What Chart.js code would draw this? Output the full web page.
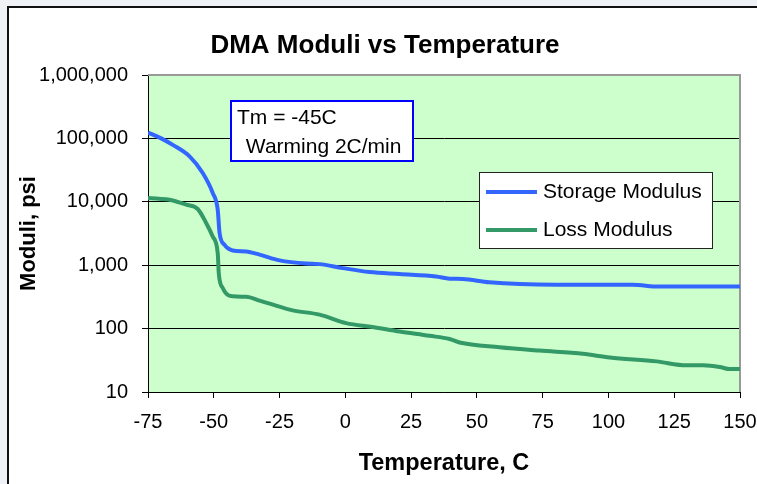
<!DOCTYPE html>
<html>
<head>
<meta charset="utf-8">
<script src="https://cdn.jsdelivr.net/npm/chart.js@4/dist/chart.umd.min.js"></script>
<style>
  body { margin: 0; background: #eef2f6; width: 757px; height: 484px; overflow: hidden; position: relative; }
  #frame { position: absolute; left: 7px; top: 6px; right: 0; bottom: 0; background: #fff; border-left: 2px solid #111; border-top: 2px solid #111; }
  #chart { position: absolute; left: 0; top: 0; }
</style>
</head>
<body>
<div id="frame"></div>
<canvas id="chart" width="757" height="484"></canvas>
<script>
const FONT = '"Liberation Sans", Arial, sans-serif';
const PLOT_BG = '#ccffcc';

// Storage modulus (psi) vs temperature (C)
const storageTemp = [-75, -70, -65.6, -59.2, -54.2, -50.4, -48.5, -47.8, -45.9, -42.8, -37.7, -32.6, -25, -14.9, -9.8, -1, 9.2, 20.6, 34.5, 39.6, 44.6, 54.7, 80.1, 109.2, 119.3, 150];
const storageMod = [124000, 100000, 79000, 52000, 28400, 13800, 7500, 3220, 2090, 1710, 1650, 1470, 1190, 1060, 1040, 900, 780, 726, 665, 613, 606, 537, 493, 490, 460, 460];

// Loss modulus (psi) vs temperature (C)
const lossTemp = [-75, -65.6, -60.5, -56.1, -52.9, -50.4, -48.5, -48.1, -46.6, -42.8, -37.7, -32.6, -28.8, -20, -9.8, 0.3, 10.4, 20.6, 32, 39.6, 43.4, 58.6, 73.8, 90.3, 100.5, 118.3, 129.7, 136, 142.3, 146.1, 150];
const lossMod = [11500, 10500, 9000, 7700, 4630, 2840, 1550, 750, 437, 323, 318, 276, 247, 194, 166, 122, 106, 90, 77, 68.5, 60.5, 51, 45, 40, 35, 30.4, 26.3, 26.3, 24.8, 23, 23];

const yTicks = [10, 100, 1000, 10000, 100000, 1000000];
const noteLines = ['Tm = -45C', ' Warming 2C/min'];

const toPoints = (xs, ys) => xs.map((x, i) => ({ x, y: ys[i] }));

// plot background, frame, title, note and legend
const decor = {
  id: 'decor',
  beforeDraw(chart) {
    const { ctx, chartArea: a } = chart;
    ctx.save();
    ctx.fillStyle = PLOT_BG;
    ctx.fillRect(a.left, a.top, a.right - a.left, a.bottom - a.top);
    ctx.restore();
  },
  beforeDatasetsDraw(chart) {
    const { ctx, chartArea: a } = chart;
    ctx.save();
    ctx.strokeStyle = '#999';
    ctx.lineWidth = 2;
    ctx.beginPath();
    ctx.moveTo(a.left, a.top);
    ctx.lineTo(a.right, a.top);
    ctx.lineTo(a.right, a.bottom);
    ctx.stroke();
    ctx.restore();
  },
  afterDraw(chart) {
    const ctx = chart.ctx;
    ctx.save();
    ctx.fillStyle = '#000';
    ctx.textBaseline = 'alphabetic';

    // title
    ctx.font = 'bold 26px ' + FONT;
    ctx.textAlign = 'center';
    ctx.fillText('DMA Moduli vs Temperature', 385, 53);

    // note box
    ctx.fillStyle = '#fff';
    ctx.fillRect(231, 101, 182, 60);
    ctx.strokeStyle = '#0000ff';
    ctx.lineWidth = 2;
    ctx.strokeRect(231, 101, 182, 60);
    ctx.fillStyle = '#000';
    ctx.font = '21px ' + FONT;
    ctx.textAlign = 'left';
    ctx.fillText(noteLines[0], 237, 124);
    ctx.fillText(noteLines[1], 240, 153);

    // legend
    ctx.fillStyle = '#fff';
    ctx.fillRect(479.5, 172.5, 233, 76);
    ctx.strokeStyle = '#222';
    ctx.lineWidth = 1;
    ctx.strokeRect(479.5, 172.5, 233, 76);
    const rowY = [192, 230];
    chart.data.datasets.forEach((ds, i) => {
      ctx.strokeStyle = ds.borderColor;
      ctx.lineWidth = 4;
      ctx.beginPath();
      ctx.moveTo(486, rowY[i]);
      ctx.lineTo(537, rowY[i]);
      ctx.stroke();
      ctx.fillStyle = '#000';
      ctx.fillText(ds.label, 543, rowY[i] + 6);
    });
    ctx.restore();
  }
};

const ctx = document.getElementById('chart').getContext('2d');
const chart = new Chart(ctx, {
  type: 'line',
  data: {
    datasets: [
      { label: 'Storage Modulus', data: toPoints(storageTemp, storageMod), borderColor: '#3366ff', borderWidth: 4, pointRadius: 0, cubicInterpolationMode: 'monotone' },
      { label: 'Loss Modulus', data: toPoints(lossTemp, lossMod), borderColor: '#339966', borderWidth: 4, pointRadius: 0, cubicInterpolationMode: 'monotone' }
    ]
  },
  options: {
    responsive: false,
    animation: false,
    layout: { padding: { top: 75, right: 17, left: 0, bottom: 0 } },
    plugins: { legend: { display: false }, title: { display: false }, tooltip: { enabled: false } },
    scales: {
      x: {
        type: 'linear',
        min: -75,
        max: 150,
        afterFit: s => { s.height = 92; s.paddingLeft = 0; s.paddingRight = 0; },
        ticks: { stepSize: 25, color: '#000', padding: 12, font: { family: FONT, size: 20 } },
        grid: { drawOnChartArea: false, color: '#000', tickLength: 6 },
        border: { color: '#000', width: 1 },
        title: { display: true, text: 'Temperature, C', color: '#000', padding: { top: 0, bottom: 6 }, font: { family: FONT, size: 23.5, weight: 'bold' } }
      },
      y: {
        type: 'logarithmic',
        min: 10,
        max: 1000000,
        afterFit: s => { s.width = 148; s.paddingTop = 0; s.paddingBottom = 0; },
        afterBuildTicks: s => { s.ticks = yTicks.map(v => ({ value: v })); },
        ticks: { color: '#000', padding: 14, font: { family: FONT, size: 20 }, callback: v => Number(v).toLocaleString('en-US') },
        grid: { color: '#000', tickLength: 6 },
        border: { color: '#000', width: 1 },
        title: { display: true, text: 'Moduli, psi', color: '#000', padding: { top: 16, bottom: 0 }, font: { family: FONT, size: 22, weight: 'bold' } }
      }
    }
  },
  plugins: [decor]
});
</script>
</body>
</html>
